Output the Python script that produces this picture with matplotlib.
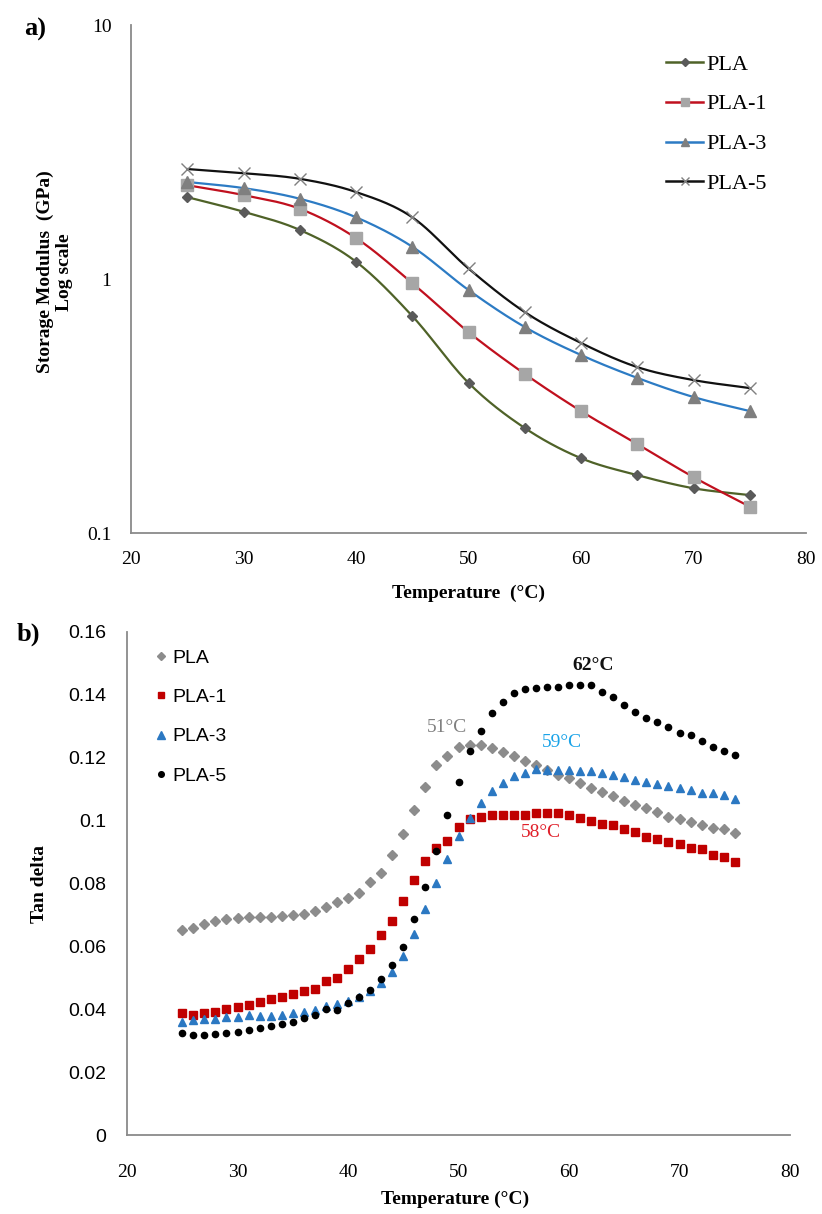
import numpy as np
import matplotlib
matplotlib.use('Agg')
import matplotlib.pyplot as plt
from matplotlib.ticker import FixedLocator, FixedFormatter, NullLocator

plt.rcParams['font.family'] = ['Liberation Serif', 'DejaVu Serif']

# ---- panel a: storage modulus (GPa), every 5 degC ----
temp_a = [25, 30, 35, 40, 45, 50, 55, 60, 65, 70, 75]
pla_a = [2.10, 1.84, 1.56, 1.17, 0.715, 0.390, 0.259, 0.197, 0.169, 0.150, 0.141]
pla1_a = [2.34, 2.14, 1.89, 1.45, 0.964, 0.618, 0.423, 0.302, 0.224, 0.166, 0.127]
pla3_a = [2.41, 2.28, 2.07, 1.75, 1.34, 0.905, 0.647, 0.502, 0.408, 0.343, 0.302]
pla5_a = [2.71, 2.61, 2.48, 2.20, 1.75, 1.10, 0.741, 0.560, 0.450, 0.400, 0.372]

# ---- panel b: tan delta, every 1 degC ----
temp_b = list(range(25, 76))
pla_b = [0.0652, 0.0657, 0.0671, 0.0682, 0.0686, 0.0690, 0.0693, 0.0692, 0.0692, 0.0697,
         0.0699, 0.0703, 0.0712, 0.0726, 0.0741, 0.0753, 0.0771, 0.0806, 0.0832, 0.0891,
         0.0957, 0.1034, 0.1106, 0.1176, 0.1207, 0.1235, 0.1240, 0.1241, 0.1232, 0.1217,
         0.1204, 0.1191, 0.1177, 0.1162, 0.1146, 0.1134, 0.1119, 0.1103, 0.1090, 0.1077,
         0.1063, 0.1050, 0.1041, 0.1026, 0.1012, 0.1004, 0.0996, 0.0986, 0.0977, 0.0972,
         0.0960]
pla1_b = [0.0389, 0.0382, 0.0387, 0.0390, 0.0401, 0.0408, 0.0414, 0.0422, 0.0433, 0.0438,
          0.0448, 0.0459, 0.0466, 0.0490, 0.0499, 0.0527, 0.0559, 0.0591, 0.0635, 0.0682,
          0.0744, 0.0811, 0.0871, 0.0914, 0.0935, 0.0981, 0.1005, 0.1013, 0.1018, 0.1018,
          0.1018, 0.1018, 0.1023, 0.1023, 0.1023, 0.1019, 0.1007, 0.0998, 0.0990, 0.0985,
          0.0972, 0.0963, 0.0949, 0.0941, 0.0931, 0.0927, 0.0912, 0.0909, 0.0891, 0.0884,
          0.0868]
pla3_b = [0.0360, 0.0366, 0.0368, 0.0370, 0.0376, 0.0376, 0.0381, 0.0378, 0.0379, 0.0382,
          0.0389, 0.0392, 0.0398, 0.0410, 0.0417, 0.0425, 0.0440, 0.0458, 0.0485, 0.0520,
          0.0570, 0.0639, 0.0718, 0.0803, 0.0879, 0.0952, 0.1008, 0.1056, 0.1093, 0.1121,
          0.1143, 0.1150, 0.1163, 0.1161, 0.1161, 0.1161, 0.1158, 0.1157, 0.1151, 0.1145,
          0.1139, 0.1129, 0.1124, 0.1116, 0.1111, 0.1104, 0.1097, 0.1089, 0.1087, 0.1081,
          0.1070]
pla5_b = [0.0325, 0.0318, 0.0318, 0.0321, 0.0325, 0.0329, 0.0334, 0.0339, 0.0348, 0.0353,
          0.0360, 0.0371, 0.0382, 0.0400, 0.0399, 0.0421, 0.0440, 0.0461, 0.0495, 0.0541,
          0.0599, 0.0687, 0.0790, 0.0904, 0.1018, 0.1124, 0.1220, 0.1286, 0.1341, 0.1376,
          0.1405, 0.1418, 0.1423, 0.1426, 0.1426, 0.1431, 0.1431, 0.1431, 0.1410, 0.1394,
          0.1368, 0.1346, 0.1327, 0.1314, 0.1299, 0.1280, 0.1272, 0.1254, 0.1233, 0.1222,
          0.1209]

names = ['PLA', 'PLA-1', 'PLA-3', 'PLA-5']
peak_labels = ['51°C', '58°C', '59°C', '62°C']
peak_pos = [(49.0, 0.1295), (57.5, 0.0961), (59.4, 0.1247), (62.2, 0.1495)]

axis_grey = '#8a8a8a'


def smooth(x, y, n=24):
    # Catmull-Rom through the points, like Excel's smoothed line
    x = np.asarray(x, float)
    y = np.asarray(y, float)
    px = np.concatenate([[2 * x[0] - x[1]], x, [2 * x[-1] - x[-2]]])
    py = np.concatenate([[2 * y[0] - y[1]], y, [2 * y[-1] - y[-2]]])
    t = np.linspace(0, 1, n, endpoint=False)
    xs, ys = [], []
    for i in range(1, len(px) - 2):
        for p, out in ((px, xs), (py, ys)):
            p0, p1, p2, p3 = p[i - 1], p[i], p[i + 1], p[i + 2]
            out.append(0.5 * (2 * p1 + (-p0 + p2) * t
                              + (2 * p0 - 5 * p1 + 4 * p2 - p3) * t ** 2
                              + (-p0 + 3 * p1 - 3 * p2 + p3) * t ** 3))
    xs = np.concatenate(xs + [[x[-1]]])
    ys = np.concatenate(ys + [[y[-1]]])
    return xs, ys


def style_axes(ax):
    for s in ['top', 'right']:
        ax.spines[s].set_visible(False)
    for s in ['left', 'bottom']:
        ax.spines[s].set_color(axis_grey)
        ax.spines[s].set_linewidth(1.3)
    ax.tick_params(length=0)


fig = plt.figure(figsize=(8.22, 12.14), dpi=100)

# ================= a) =================
ax1 = fig.add_axes([131 / 822, 1 - 533 / 1214, 675 / 822, 508 / 1214])
line_cols = ['#4f6228', '#c0101e', '#2c7bc4', '#111111']
mk = ['D', 's', '^', 'x']
mk_cols = ['#5a5a5a', '#a6a6a6', '#7f7f7f', '#808080']
mk_size = [5.5, 8, 8, 9]
for vals, name, lc, m, mc, ms in zip([pla_a, pla1_a, pla3_a, pla5_a], names,
                                      line_cols, mk, mk_cols, mk_size):
    sx, sy = smooth(temp_a, np.log10(vals))
    ax1.plot(sx, 10 ** sy, color=lc, lw=1.6, zorder=2)
    ax1.plot(temp_a, vals, linestyle='none', marker=m, ms=ms, color=mc,
             mec=mc, mew=1.0, zorder=3)
    # legend proxy
    ax1.plot([], [], color=lc, lw=1.8, marker=m, ms=ms * 0.7, mfc=mc, mec=mc, label=name)

ax1.set_yscale('log')
ax1.set_xlim(20, 80)
ax1.set_ylim(0.1, 10)
ax1.xaxis.set_major_locator(FixedLocator(range(20, 81, 10)))
ax1.yaxis.set_major_locator(FixedLocator([0.1, 1, 10]))
ax1.yaxis.set_major_formatter(FixedFormatter(['0.1', '1', '10']))
ax1.yaxis.set_minor_locator(NullLocator())
style_axes(ax1)
ax1.tick_params(axis='y', labelsize=14, pad=14)
ax1.tick_params(axis='x', labelsize=14, pad=13)
ax1.set_xlabel('Temperature  (°C)', fontsize=14, fontweight='bold')
ax1.xaxis.set_label_coords(0.5, -0.102)
ax1.set_ylabel('Storage Modulus  (GPa)\nLog scale', fontsize=14, fontweight='bold',
               linespacing=1.15)
ax1.yaxis.set_label_coords(-0.086, 0.514)
ax1.legend(loc='upper left', bbox_to_anchor=(0.793, 0.943), frameon=False,
           fontsize=16, handlelength=1.67, handletextpad=0.12, labelspacing=0.87,
           borderaxespad=0, borderpad=0)

# ================= b) =================
ax2 = fig.add_axes([127 / 822, 1 - 1135 / 1214, 663 / 822, 503 / 1214])
pt_cols = ['#8c8c8c', '#c00000', '#2b78c2', '#000000']
pt_mk = ['D', 's', '^', 'o']
pt_ms = [5, 5.5, 6, 4.5]
for vals, name, c, m, ms in zip([pla_b, pla1_b, pla3_b, pla5_b], names, pt_cols, pt_mk, pt_ms):
    ax2.plot(temp_b, vals, linestyle='none', marker=m, ms=ms, color=c, mec=c, label=name)

ax2.set_xlim(20, 80)
ax2.set_ylim(0, 0.16)
ax2.xaxis.set_major_locator(FixedLocator(range(20, 81, 10)))
yt = [0, 0.02, 0.04, 0.06, 0.08, 0.1, 0.12, 0.14, 0.16]
ax2.yaxis.set_major_locator(FixedLocator(yt))
ax2.yaxis.set_major_formatter(FixedFormatter(['%g' % v for v in yt]))
style_axes(ax2)
ax2.tick_params(axis='y', labelsize=14, pad=15)
ax2.tick_params(axis='x', labelsize=14, pad=21)
for lb in ax2.get_yticklabels():
    lb.set_fontfamily('Liberation Sans')
ax2.set_xlabel('Temperature (°C)', fontsize=14, fontweight='bold')
ax2.xaxis.set_label_coords(0.495, -0.111)
ax2.set_ylabel('Tan delta', fontsize=14, fontweight='bold')
ax2.yaxis.set_label_coords(-0.119, 0.499)
ax2.legend(loc='upper left', bbox_to_anchor=(0.042, 0.966), frameon=False,
           prop={'family': 'Liberation Sans', 'size': 14}, handlelength=0.6,
           handletextpad=0.3, labelspacing=1.12, borderaxespad=0, borderpad=0,
           markerscale=0.9)

ann_cols = ['#808080', '#e0202a', '#1aa3e8', '#111111']
ann_wt = ['normal', 'normal', 'normal', 'bold']
for txt, (tx, ty), c, w in zip(peak_labels, peak_pos, ann_cols, ann_wt):
    ax2.text(tx, ty, txt, color=c, fontsize=14, fontweight=w, ha='center', va='center')

fig.text(35 / 822, 1 - 29 / 1214, 'a)', fontsize=19, fontweight='bold', ha='center', va='center')
fig.text(28 / 822, 1 - 634 / 1214, 'b)', fontsize=19, fontweight='bold', ha='center', va='center')

fig.savefig('out.png', dpi=100)
